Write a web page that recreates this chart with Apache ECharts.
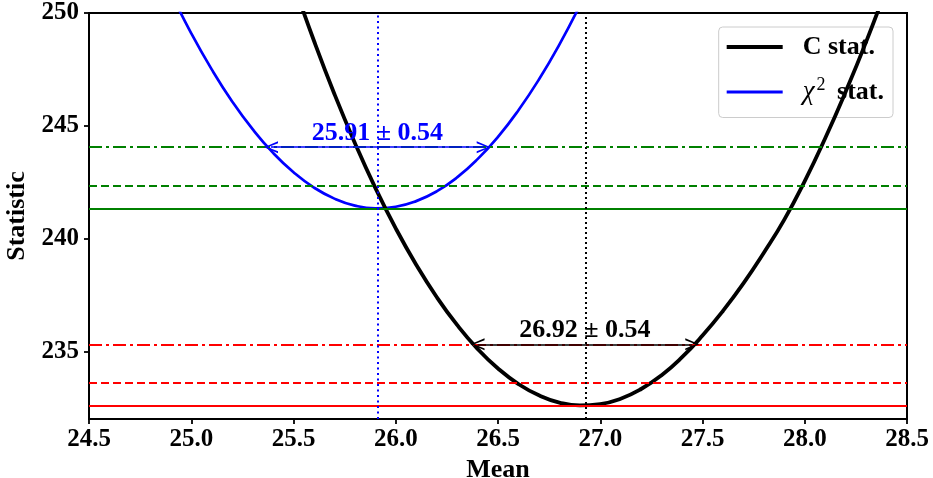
<!DOCTYPE html>
<html>
<head>
<meta charset="utf-8">
<script src="https://cdn.jsdelivr.net/npm/echarts@6/dist/echarts.min.js"></script>
<style>
html,body{margin:0;padding:0;background:#fff;}
#c{width:933px;height:478px;}
</style>
</head>
<body>
<div id="c"></div>
<script>
// ---- data ----
const cX = [25.5,25.6,25.7,25.8,25.9,26.0,26.1,26.2,26.3,26.4,26.5,26.6,26.7,26.8,26.9,27.0,27.1,27.2,27.3,27.4,27.5,27.6,27.7,27.8,27.9,28.0,28.1,28.2,28.3,28.4];
const cY = [251.31,248.77,246.41,244.24,242.25,240.45,238.84,237.41,236.17,235.11,234.24,233.55,233.05,232.73,232.60,232.66,232.90,233.33,233.94,234.74,235.70,236.79,238.01,239.37,240.84,242.55,244.45,246.51,248.72,251.11];
const chiX = [24.9,25.0,25.1,25.2,25.3,25.4,25.5,25.6,25.7,25.8,25.9,26.0,26.1,26.2,26.3,26.4,26.5,26.6,26.7,26.8,26.9];
const chiY = [250.89,249.10,247.50,246.08,244.85,243.80,242.94,242.26,241.77,241.46,241.34,241.41,241.66,242.09,242.71,243.52,244.51,245.69,247.05,248.60,250.33];
const cLevels = [232.60, 233.60, 235.31];      // min, +1, +2.71
const chiLevels = [241.34, 242.35, 244.05];    // min, +1, +2.71
const cBest = 26.925, chiBest = 25.915;
const cArrow = [26.40, 27.45];
const chiArrow = [25.39, 26.43];
const cLabel = '26.92 ± 0.54';
const chiLabel = '25.91 ± 0.54';
const xTicks = [24.5,25.0,25.5,26.0,26.5,27.0,27.5,28.0,28.5];
const yTicks = [235,240,245,250];
const seriesNames = ['C stat.', 'χ2 stat.'];

// ---- chart ----
const FF = 'Liberation Serif';
const levelTypes = ['solid', [8,4], [13,4,3,4]];
const chevron = 'path://M5,0 L10,10 L8.4,10 L5,2.6 L1.6,10 L0,10 Z';

function levelLines(levels, color){
  return levels.map((v,i)=>({yAxis:v, lineStyle:{color:color, width:1.8, type:levelTypes[i]}}));
}
function arrow(xs, y, color, text){
  return [
    {coord:[xs[0], y], symbol: chevron, symbolSize:[12,14], lineStyle:{color:color, width:1.6, type:'solid'},
     label:{show:true, position:'middle', formatter:text, color:color, fontFamily:FF, fontWeight:'bold', fontSize:26, distance:1}},
    {coord:[xs[1], y], symbol: chevron, symbolSize:[12,14]}
  ];
}

const chart = echarts.init(document.getElementById('c'), null, {renderer:'canvas'});
chart.setOption({
  animation:false,
  backgroundColor:'#fff',
  grid:{left:89, right:26, top:13, bottom:59, show:true, borderColor:'#000', borderWidth:2,
    backgroundColor:'transparent', containLabel:false, outerBoundsMode:'none'},
  xAxis:{
    type:'value', min:24.5, max:28.5, interval:0.5,
    name:'Mean', nameLocation:'middle', nameGap:33,
    nameTextStyle:{fontFamily:FF, fontWeight:'bold', fontSize:26, color:'#000'},
    axisLine:{show:true, onZero:false, lineStyle:{color:'#000', width:2}},
    axisTick:{show:true, length:5, lineStyle:{color:'#000', width:1.8}, customValues:xTicks},
    axisLabel:{fontFamily:FF, fontWeight:'bold', fontSize:25, color:'#000', margin:8,
      customValues:xTicks, formatter:v=>Number(v).toFixed(1)},
    splitLine:{show:false}
  },
  yAxis:{
    type:'value', min:232.0, max:250,
    name:'Statistic', nameLocation:'middle', nameGap:57, nameRotate:90,
    nameTextStyle:{fontFamily:FF, fontWeight:'bold', fontSize:26, color:'#000'},
    axisLine:{show:true, onZero:false, lineStyle:{color:'#000', width:2}},
    axisTick:{show:true, length:5, lineStyle:{color:'#000', width:1.8}, customValues:yTicks},
    axisLabel:{fontFamily:FF, fontWeight:'bold', fontSize:25, color:'#000', margin:10,
      customValues:yTicks, formatter:v=>String(Math.round(v))},
    splitLine:{show:false}
  },
  legend:{
    data:[
      {name:seriesNames[0], icon:'path://M0,0 L56,0 L56,4 L0,4 Z', itemStyle:{color:'#000000'}},
      {name:seriesNames[1], icon:'path://M0,0 L56,0 L56,3 L0,3 Z', itemStyle:{color:'#0000ff'}}
    ],
    orient:'vertical', right:40, top:27, symbolKeepAspect:true,
    itemWidth:56, itemHeight:14, itemGap:16,
    padding:[7,9,12,8],
    backgroundColor:'rgba(255,255,255,0.8)', borderColor:'#cccccc', borderWidth:1, borderRadius:4,
    textStyle:{fontFamily:FF, fontWeight:'bold', fontSize:26, color:'#000', padding:[0,0,0,15],
      rich:{
        i:{fontFamily:FF, fontStyle:'italic', fontWeight:'normal', fontSize:27, color:'#000'},
        s:{fontFamily:FF, fontWeight:'normal', fontSize:18, color:'#000', padding:[0,5,14,2]},
        b:{fontFamily:FF, fontWeight:'bold', fontSize:26, color:'#000'}
      }},
    formatter:function(n){ return n===seriesNames[1] ? '{i|χ}{s|2}{b| stat.}' : n; }
  },
  series:[
    {
      name:'hlines', type:'line', data:[], silent:true, z:1,
      markLine:{silent:true, symbol:'none', animation:false, label:{show:false},
        data:[].concat(levelLines(cLevels,'#ff0000'), levelLines(chiLevels,'#008000'))}
    },
    {
      name:'vlines', type:'line', data:[], silent:true, z:2,
      markLine:{silent:true, symbol:'none', animation:false, label:{show:false},
        data:[
          {xAxis:chiBest, lineStyle:{color:'#0000ff', width:2, type:[2,3.5]}},
          {xAxis:cBest, lineStyle:{color:'#000000', width:2, type:[2,3]}}
        ]}
    },
    {
      name:seriesNames[1], type:'line', data:chiX.map((x,i)=>[x,chiY[i]]),
      showSymbol:false, symbol:'none', clip:true, z:3, smooth:0.5,
      lineStyle:{color:'#0000ff', width:2.7}, itemStyle:{color:'#0000ff'},
      markLine:{silent:true, symbol:'none', animation:false, data:[arrow(chiArrow, chiLevels[2], '#0000ff', chiLabel)]}
    },
    {
      name:seriesNames[0], type:'line', data:cX.map((x,i)=>[x,cY[i]]),
      showSymbol:false, symbol:'none', clip:true, z:4, smooth:0.5,
      lineStyle:{color:'#000000', width:3.8}, itemStyle:{color:'#000000'},
      markLine:{silent:true, symbol:'none', animation:false, data:[arrow(cArrow, cLevels[2], '#000000', cLabel)]}
    }
  ]
});
</script>
</body>
</html>
